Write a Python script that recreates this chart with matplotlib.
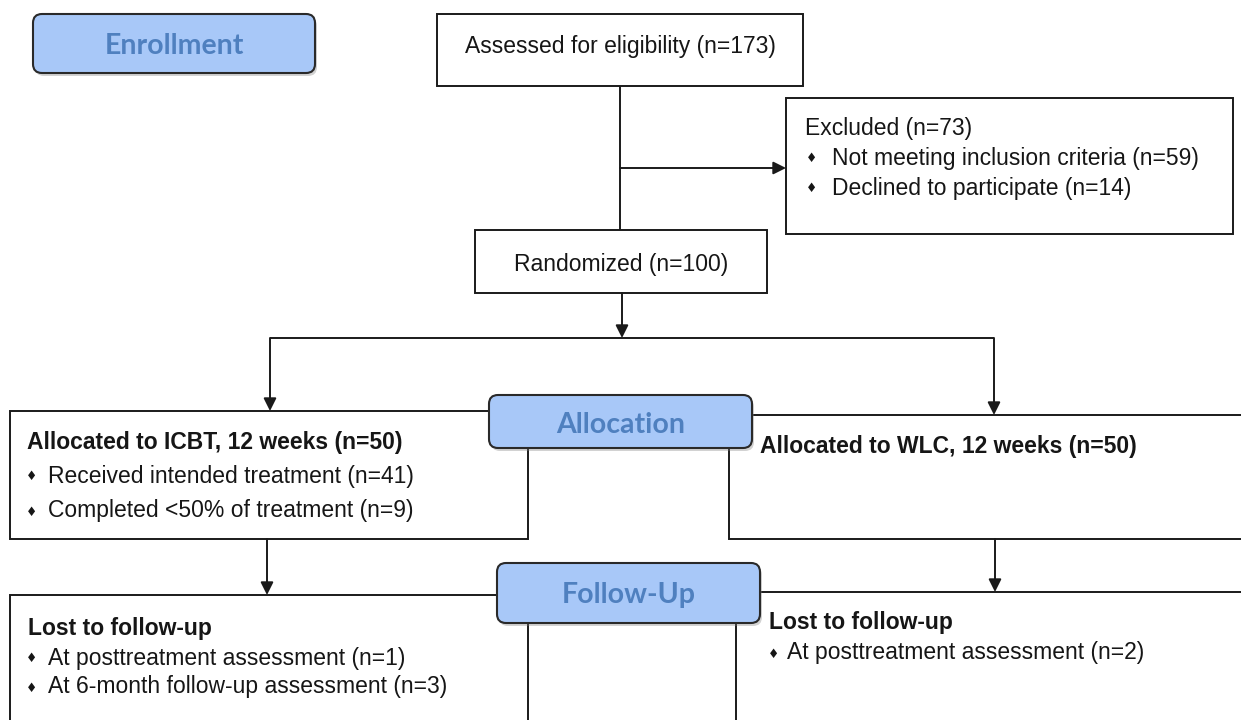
import matplotlib
matplotlib.use("Agg")
import matplotlib.pyplot as plt
from matplotlib.patches import Rectangle, FancyBboxPatch

# ---- data ----
stage_labels = ["Enrollment", "Allocation", "Follow-Up"]
assessed_n = 173
excluded_n = 73
excluded_reasons = ["Not meeting inclusion criteria", "Declined to participate"]
excluded_counts = [59, 14]
randomized_n = 100
arm_names = ["ICBT", "WLC"]
arm_weeks = [12, 12]
arm_n = [50, 50]
icbt_adherence_labels = ["Received intended treatment", "Completed <50% of treatment"]
icbt_adherence_counts = [41, 9]
icbt_lost_labels = ["At posttreatment assessment", "At 6-month follow-up assessment"]
icbt_lost_counts = [1, 3]
wlc_lost_labels = ["At posttreatment assessment"]
wlc_lost_counts = [2]

W, H = 1241, 720
fig = plt.figure(figsize=(W / 100, H / 100), dpi=100)
ax = fig.add_axes([0, 0, 1, 1])
ax.set_xlim(0, W)
ax.set_ylim(H, 0)
ax.axis("off")

LC = "#1a1a1a"
LW = 1.4
TXT = "#161616"
FONT = ["Liberation Sans", "DejaVu Sans"]
FS = 16.5
STAGE_FILL = "#a8c8f8"
STAGE_TXT = "#4f80bf"


def box(x0, y0, x1, y1, z=2):
    ax.add_patch(Rectangle((x0, y0), x1 - x0, y1 - y0, facecolor="white",
                           edgecolor=LC, lw=LW, zorder=z))


def line(xs, ys, z=1):
    ax.plot(xs, ys, color=LC, lw=LW, zorder=z, solid_capstyle="butt")


def arrow(x0, y0, x1, y1, z=3):
    ax.annotate("", xy=(x1, y1), xytext=(x0, y0),
                arrowprops=dict(arrowstyle="-|>", color=LC, lw=LW,
                                mutation_scale=19, shrinkA=0, shrinkB=0),
                zorder=z)


def stage(x0, y0, x1, y1, label, tx, ty):
    sh = FancyBboxPatch((x0 + 2, y0 + 3), x1 - x0, y1 - y0,
                        boxstyle="round,pad=0,rounding_size=9",
                        facecolor="#7f7f7f", edgecolor="none", alpha=0.35, zorder=5)
    ax.add_patch(sh)
    p = FancyBboxPatch((x0, y0), x1 - x0, y1 - y0,
                       boxstyle="round,pad=0,rounding_size=9",
                       facecolor=STAGE_FILL, edgecolor="#2a2a2a", lw=1.5, zorder=6)
    ax.add_patch(p)
    ax.text(tx, ty, label, ha="center", va="center", color=STAGE_TXT,
            fontsize=20.5, fontweight="bold", family=["Lato", "DejaVu Sans"], zorder=7)


def txt(x, y, s, bold=False, ha="left"):
    ax.text(x, y, s, ha=ha, va="center", color=TXT, fontsize=FS,
            fontweight="bold" if bold else "normal", family=FONT, zorder=8)


def bullet(xb, xt, y, s):
    ax.text(xb, y + 1, "\u2666", ha="center", va="center", color=TXT,
            fontsize=9, family=["DejaVu Sans"], zorder=8)
    txt(xt, y, s)


# ---- enrollment ----
stage(33, 14, 315, 73, stage_labels[0], 174, 46)
box(437, 14, 803, 86)
txt(620, 47, f"Assessed for eligibility (n={assessed_n})", ha="center")
line([620, 620], [86, 230])
arrow(620, 168, 786, 168)
box(786, 98, 1233, 234)
txt(805, 128, f"Excluded (n={excluded_n})")
for i, (lab, c) in enumerate(zip(excluded_reasons, excluded_counts)):
    bullet(812, 832, 158 + 30 * i, f"{lab} (n={c})")

box(475, 230, 767, 293)
txt(621, 264, f"Randomized (n={randomized_n})", ha="center")
arrow(622, 293, 622, 338)
line([270, 994], [338, 338])
arrow(270, 338, 270, 411)
arrow(994, 338, 994, 415)

# ---- allocation ----
box(10, 411, 528, 539)
box(729, 415, 1260, 539)
stage(489, 395, 752, 448, stage_labels[1], 621, 425)
txt(27, 442, f"Allocated to {arm_names[0]}, {arm_weeks[0]} weeks (n={arm_n[0]})", bold=True)
for i, (lab, c) in enumerate(zip(icbt_adherence_labels, icbt_adherence_counts)):
    bullet(32, 48, 476 + 35 * i, f"{lab} (n={c})")
txt(760, 446, f"Allocated to {arm_names[1]}, {arm_weeks[1]} weeks (n={arm_n[1]})", bold=True)

arrow(267, 539, 267, 595)
arrow(995, 539, 995, 592)

# ---- follow-up ----
box(10, 595, 528, 740)
box(736, 592, 1260, 740)
stage(497, 563, 760, 623, stage_labels[2], 629, 595)
txt(28, 628, "Lost to follow-up", bold=True)
for i, (lab, c) in enumerate(zip(icbt_lost_labels, icbt_lost_counts)):
    bullet(32, 48, 658 + 29 * i, f"{lab} (n={c})")
txt(769, 623, "Lost to follow-up", bold=True)
for i, (lab, c) in enumerate(zip(wlc_lost_labels, wlc_lost_counts)):
    bullet(774, 787, 653 + 29 * i, f"{lab} (n={c})")

fig.savefig("out.png", dpi=100, facecolor="white")
